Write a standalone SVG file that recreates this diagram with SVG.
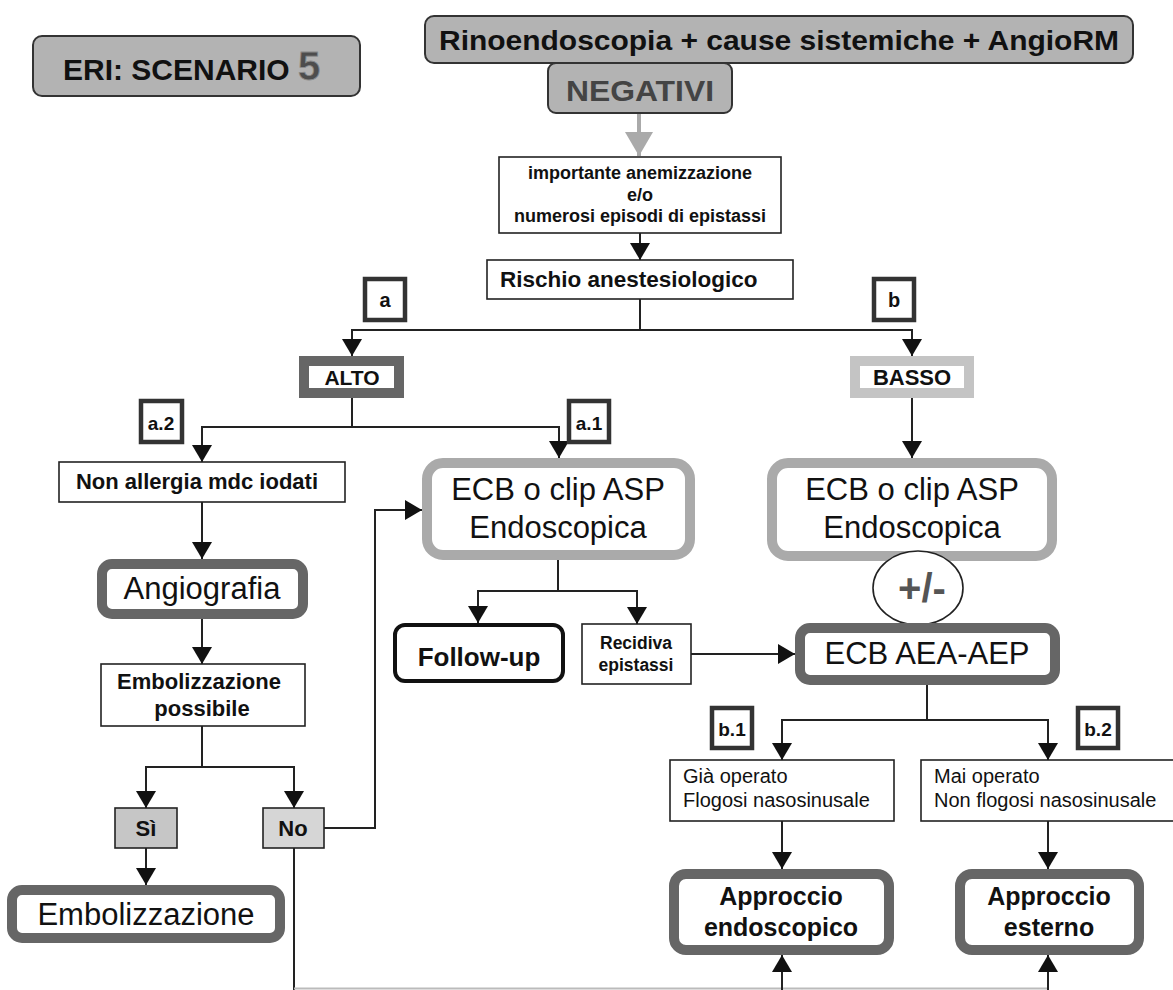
<svg xmlns="http://www.w3.org/2000/svg" width="1173" height="990" viewBox="0 0 1173 990">
  <style>
    text { font-family: "Liberation Sans", Arial, sans-serif; fill: #111; }
    .b { font-weight: bold; }
    .mid { text-anchor: middle; }
    .head { fill: #b3b3b3; stroke: #333; stroke-width: 2; }
    .thin { fill: #fff; stroke: #222; stroke-width: 1.6; }
    .dark { fill: #fff; stroke: #666; stroke-width: 10; }
    .light { fill: #fff; stroke: #aaa; stroke-width: 10; }
    .pale { fill: #fff; stroke: #c4c4c4; stroke-width: 10; }
    .tag { fill: #fff; stroke: #333; stroke-width: 4.5; }
    .conn path { fill: none; stroke: #222; stroke-width: 2; }
  </style>
  <defs>
    <marker id="arr" markerUnits="userSpaceOnUse" markerWidth="17" markerHeight="20" refX="17" refY="10" orient="auto">
      <path d="M0,0 L17,10 L0,20 z" fill="#111"/>
    </marker>
    <marker id="arrGrey" markerUnits="userSpaceOnUse" markerWidth="24" markerHeight="28" refX="24" refY="14" orient="auto">
      <path d="M0,0 L24,14 L0,28 z" fill="#aaa"/>
    </marker>
  </defs>
  <rect width="1173" height="990" fill="#fff"/>

  <!-- connectors -->
  <g id="connectors" class="conn">
    <path d="M639,113 V156" style="stroke:#aaa;stroke-width:4" marker-end="url(#arrGrey)"/>
    <path d="M640,233 V260" marker-end="url(#arr)"/>
    <path d="M640,299 V330"/>
    <path d="M640,330 H352 V356" marker-end="url(#arr)"/>
    <path d="M640,330 H912 V356" marker-end="url(#arr)"/>
    <path d="M352,398 V427"/>
    <path d="M352,427 H202 V462" marker-end="url(#arr)"/>
    <path d="M352,427 H559 V458" marker-end="url(#arr)"/>
    <path d="M912,398 V458" marker-end="url(#arr)"/>
    <path d="M202,502 V559" marker-end="url(#arr)"/>
    <path d="M202,619 V664" marker-end="url(#arr)"/>
    <path d="M202,726 V767 H146 V808" marker-end="url(#arr)"/>
    <path d="M202,767 H294 V808" marker-end="url(#arr)"/>
    <path d="M146,848 V885" marker-end="url(#arr)"/>
    <path d="M324,828 H375 V510 H422" marker-end="url(#arr)"/>
    <path d="M558,560 V591 H478 V623" marker-end="url(#arr)"/>
    <path d="M558,591 H637 V624" marker-end="url(#arr)"/>
    <path d="M691,654 H795" marker-end="url(#arr)"/>
    <path d="M927,685 V720 H782 V760" marker-end="url(#arr)"/>
    <path d="M927,720 H1048 V760" marker-end="url(#arr)"/>
    <path d="M782,821 V869" marker-end="url(#arr)"/>
    <path d="M1048,821 V869" marker-end="url(#arr)"/>
    <path d="M294,848 V990"/>
    <path d="M294,988.5 H1048" style="stroke:#bbb"/>
    <path d="M782,990 V955" marker-end="url(#arr)"/>
    <path d="M1048,990 V955" marker-end="url(#arr)"/>
  </g>

  <g id="title">
    <rect class="head" x="33" y="36" width="327" height="60" rx="9"/>
    <text class="b" x="63" y="80" font-size="30">ERI: SCENARIO <tspan font-size="40" fill="#4d4d4d" stroke="#8a8a8a" stroke-width="0.8">5</tspan></text>
  </g>

  <g id="exams">
    <rect class="head" x="425" y="16" width="708" height="47" rx="9"/>
    <text class="b mid" x="779" y="50" font-size="27" textLength="680" lengthAdjust="spacingAndGlyphs">Rinoendoscopia + cause sistemiche + AngioRM</text>
  </g>

  <g id="negativi">
    <rect class="head" x="548" y="63" width="184" height="50" rx="8"/>
    <text class="b mid" x="640" y="101" font-size="30" style="fill:#444" textLength="148" lengthAdjust="spacingAndGlyphs">NEGATIVI</text>
  </g>

  <g id="anemizzazione">
    <rect class="thin" x="499" y="157" width="282" height="76"/>
    <text class="b mid" x="640" y="179" font-size="18">importante anemizzazione</text>
    <text class="b mid" x="640" y="201" font-size="18">e/o</text>
    <text class="b mid" x="640" y="222" font-size="18">numerosi episodi di epistassi</text>
  </g>

  <g id="rischio">
    <rect class="thin" x="487" y="260" width="306" height="39"/>
    <text class="b" x="500" y="287" font-size="22.5">Rischio anestesiologico</text>
  </g>

  <g id="tag-a">
    <rect class="tag" x="365" y="279" width="40" height="41"/>
    <text class="b mid" x="385" y="307" font-size="20">a</text>
  </g>
  <g id="tag-b">
    <rect class="tag" x="874" y="279" width="40" height="41"/>
    <text class="b mid" x="894" y="307" font-size="20">b</text>
  </g>

  <g id="alto">
    <rect class="dark" x="304" y="361" width="95" height="32"/>
    <text class="b mid" x="352" y="385" font-size="21">ALTO</text>
  </g>
  <g id="basso">
    <rect class="pale" x="855" y="361" width="114" height="32"/>
    <text class="b mid" x="912" y="385" font-size="22">BASSO</text>
  </g>

  <g id="tag-a2">
    <rect class="tag" x="141" y="401" width="41" height="41"/>
    <text class="b mid" x="161" y="430" font-size="19">a.2</text>
  </g>
  <g id="tag-a1">
    <rect class="tag" x="569" y="401" width="40" height="41"/>
    <text class="b mid" x="589" y="430" font-size="19">a.1</text>
  </g>

  <g id="non-allergia">
    <rect class="thin" x="59" y="462" width="286" height="40"/>
    <text class="b mid" x="197" y="489" font-size="22">Non allergia mdc iodati</text>
  </g>

  <g id="angiografia">
    <rect class="dark" x="102" y="564" width="201" height="50" rx="10"/>
    <text class="mid" x="202" y="599" font-size="31">Angiografia</text>
  </g>

  <g id="embolizzazione-possibile">
    <rect class="thin" x="101" y="664" width="204" height="62"/>
    <text class="b mid" x="199" y="689" font-size="22">Embolizzazione</text>
    <text class="b mid" x="202" y="716" font-size="22">possibile</text>
  </g>

  <g id="si">
    <rect x="115" y="808" width="62" height="40" fill="#c6c6c6" stroke="#222" stroke-width="1.6"/>
    <text class="b mid" x="146" y="836" font-size="22">Sì</text>
  </g>
  <g id="no">
    <rect x="263" y="808" width="61" height="40" fill="#d6d6d6" stroke="#222" stroke-width="1.6"/>
    <text class="b mid" x="293" y="836" font-size="22">No</text>
  </g>

  <g id="embolizzazione">
    <rect class="dark" x="12" y="890" width="268" height="48" rx="10"/>
    <text class="mid" x="146" y="925" font-size="31">Embolizzazione</text>
  </g>

  <g id="ecb-alto">
    <rect class="light" x="427" y="463" width="263" height="92" rx="16"/>
    <text class="mid" x="558" y="500" font-size="31">ECB o clip ASP</text>
    <text class="mid" x="558" y="538" font-size="31">Endoscopica</text>
  </g>

  <g id="follow-up">
    <rect x="395" y="625" width="168" height="56" rx="10" fill="#fff" stroke="#111" stroke-width="4"/>
    <text class="b mid" x="479" y="666" font-size="26">Follow-up</text>
  </g>

  <g id="recidiva">
    <rect class="thin" x="582" y="624" width="109" height="60"/>
    <text class="b mid" x="636" y="649" font-size="17.5">Recidiva</text>
    <text class="b mid" x="636" y="671" font-size="17.5">epistassi</text>
  </g>

  <g id="ecb-basso">
    <rect class="light" x="772" y="463" width="280" height="93" rx="16"/>
    <text class="mid" x="912" y="500" font-size="31">ECB o clip ASP</text>
    <text class="mid" x="912" y="538" font-size="31">Endoscopica</text>
  </g>

  <g id="piu-meno">
    <ellipse cx="918" cy="588" rx="45" ry="37" fill="#fff" stroke="#222" stroke-width="1.6"/>
    <text class="b mid" x="922" y="602" font-size="40" style="fill:#555">+/-</text>
  </g>

  <g id="ecb-aea-aep">
    <rect class="dark" x="800" y="628" width="255" height="52" rx="10"/>
    <text class="mid" x="927" y="664" font-size="31">ECB AEA-AEP</text>
  </g>

  <g id="tag-b1">
    <rect class="tag" x="712" y="708" width="40" height="40"/>
    <text class="b mid" x="732" y="736" font-size="19">b.1</text>
  </g>
  <g id="tag-b2">
    <rect class="tag" x="1078" y="708" width="40" height="40"/>
    <text class="b mid" x="1098" y="736" font-size="19">b.2</text>
  </g>

  <g id="gia-operato">
    <rect class="thin" x="670" y="760" width="224" height="61"/>
    <text x="683" y="783" font-size="20">Già operato</text>
    <text x="683" y="807" font-size="20">Flogosi nasosinusale</text>
  </g>

  <g id="mai-operato">
    <rect class="thin" x="921" y="760" width="262" height="61"/>
    <text x="934" y="783" font-size="20">Mai operato</text>
    <text x="934" y="807" font-size="20">Non flogosi nasosinusale</text>
  </g>

  <g id="approccio-endoscopico">
    <rect class="dark" x="674" y="874" width="215" height="76" rx="12"/>
    <text class="b mid" x="781" y="905" font-size="25">Approccio</text>
    <text class="b mid" x="781" y="936" font-size="25">endoscopico</text>
  </g>

  <g id="approccio-esterno">
    <rect class="dark" x="960" y="874" width="179" height="76" rx="12"/>
    <text class="b mid" x="1049" y="905" font-size="25">Approccio</text>
    <text class="b mid" x="1049" y="936" font-size="25">esterno</text>
  </g>
</svg>
